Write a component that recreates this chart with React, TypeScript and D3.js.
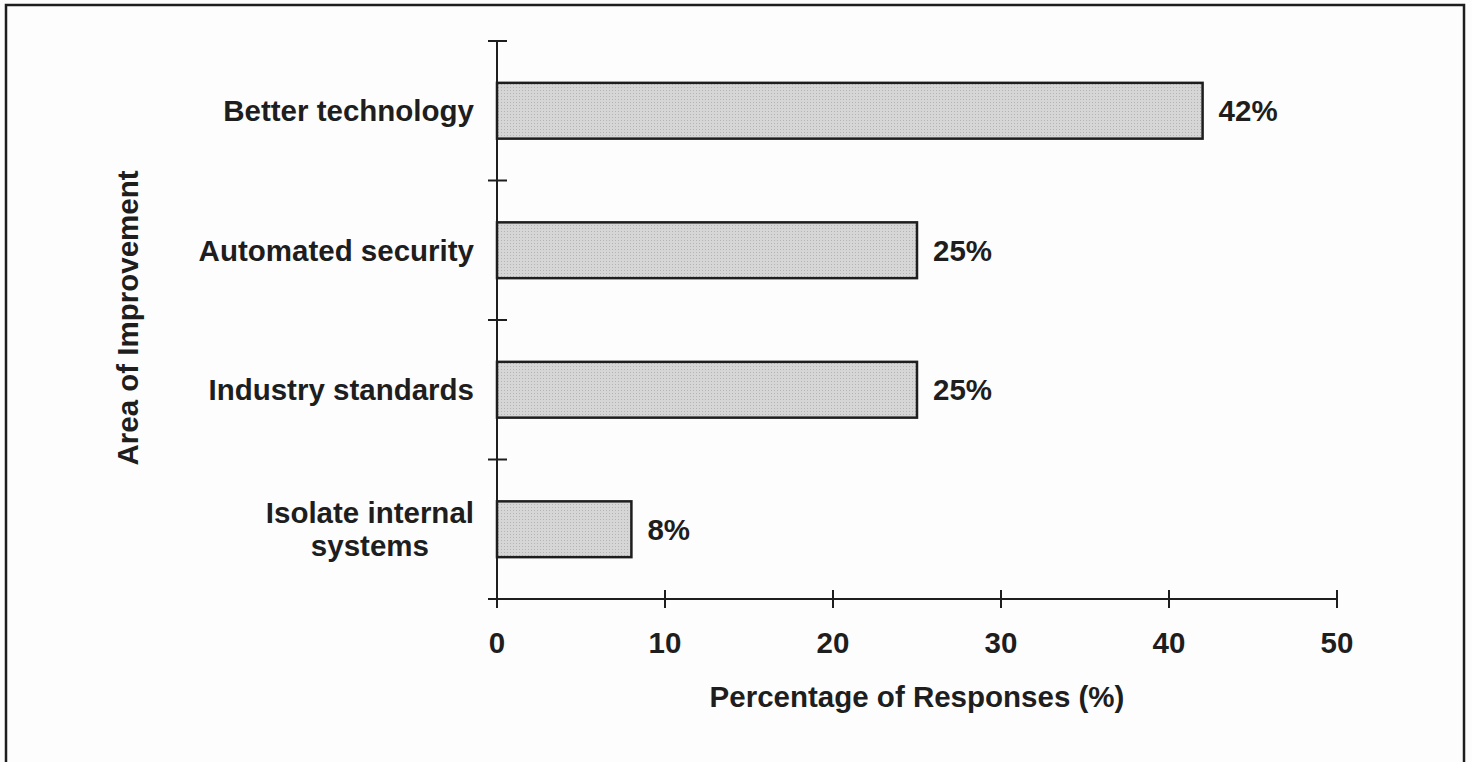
import React, { useEffect, useRef } from "react";
import * as d3 from "d3";

const categories = [
  ["Better technology"],
  ["Automated security"],
  ["Industry standards"],
  ["Isolate internal", "systems"],
];
const values = [42, 25, 25, 8];
const xTicks = [0, 10, 20, 30, 40, 50];

const FONT = "'Liberation Sans', Arial, Helvetica, sans-serif";
const FS = 29.5;

export default function App() {
  const svgRef = useRef<SVGSVGElement | null>(null);

  useEffect(() => {
    const width = 1472;
    const height = 762;
    const margin = { top: 41, left: 497, right: 135, bottom: 163 };

    const svg = d3.select(svgRef.current);
    svg.selectAll("*").remove();
    svg.attr("width", width).attr("height", height);

    svg.append("rect")
      .attr("width", width)
      .attr("height", height)
      .attr("fill", "#fdfdfd");

    // frame (bottom edge is off the picture)
    svg.append("rect")
      .attr("x", 6)
      .attr("y", 5)
      .attr("width", 1458)
      .attr("height", 780)
      .attr("fill", "none")
      .attr("stroke", "#1e1e1e")
      .attr("stroke-width", 2.5);

    const defs = svg.append("defs");
    const pat = defs.append("pattern")
      .attr("id", "stipple")
      .attr("width", 3)
      .attr("height", 3)
      .attr("patternUnits", "userSpaceOnUse");
    pat.append("rect").attr("width", 3).attr("height", 3).attr("fill", "#d6d6d6");
    pat.append("rect").attr("width", 1).attr("height", 1).attr("fill", "#b4b4b4");

    const x = d3.scaleLinear()
      .domain([0, 50])
      .range([margin.left, width - margin.right]);

    const y = d3.scaleBand<number>()
      .domain(d3.range(categories.length))
      .range([margin.top, height - margin.bottom])
      .paddingInner(0.6)
      .paddingOuter(0.3);

    const step = y.step();
    const yTop = margin.top;
    const yBottom = height - margin.bottom;
    const axisColor = "#1e1e1e";

    // bars
    svg.append("g")
      .selectAll("rect")
      .data(values)
      .join("rect")
      .attr("x", x(0))
      .attr("y", (d, i) => y(i)!)
      .attr("width", (d) => x(d) - x(0))
      .attr("height", y.bandwidth())
      .attr("fill", "url(#stipple)")
      .attr("stroke", "#1e1e1e")
      .attr("stroke-width", 2.5);

    // value labels
    svg.append("g")
      .selectAll("text")
      .data(values)
      .join("text")
      .attr("x", (d) => x(d) + 16)
      .attr("y", (d, i) => y(i)! + y.bandwidth() / 2)
      .attr("dy", "0.36em")
      .attr("font-family", FONT)
      .attr("font-weight", "bold")
      .attr("font-size", FS)
      .attr("fill", "#1e1e1e")
      .text((d) => `${d}%`);

    // y axis line and ticks
    svg.append("line")
      .attr("x1", x(0)).attr("x2", x(0))
      .attr("y1", yTop).attr("y2", yBottom + 9)
      .attr("stroke", axisColor).attr("stroke-width", 2);

    svg.append("g")
      .selectAll("line")
      .data(d3.range(categories.length + 1))
      .join("line")
      .attr("x1", x(0) - 9).attr("x2", x(0) + 10)
      .attr("y1", (d) => yTop + d * step)
      .attr("y2", (d) => yTop + d * step)
      .attr("stroke", axisColor).attr("stroke-width", 2);

    // x axis line and ticks
    svg.append("line")
      .attr("x1", x(0)).attr("x2", x(50))
      .attr("y1", yBottom).attr("y2", yBottom)
      .attr("stroke", axisColor).attr("stroke-width", 2);

    svg.append("g")
      .selectAll("line")
      .data(xTicks)
      .join("line")
      .attr("x1", (d) => x(d)).attr("x2", (d) => x(d))
      .attr("y1", yBottom - 9).attr("y2", yBottom + 9)
      .attr("stroke", axisColor).attr("stroke-width", 2);

    svg.append("g")
      .selectAll("text")
      .data(xTicks)
      .join("text")
      .attr("x", (d) => x(d))
      .attr("y", yBottom + 54)
      .attr("text-anchor", "middle")
      .attr("font-family", FONT)
      .attr("font-weight", "bold")
      .attr("font-size", FS)
      .attr("fill", "#1e1e1e")
      .text((d) => d);

    // category labels
    const labelRight = x(0) - 23;
    categories.forEach((lines, i) => {
      const cy = y(i)! + y.bandwidth() / 2;
      const t = svg.append("text")
        .attr("font-family", FONT)
        .attr("font-weight", "bold")
        .attr("font-size", FS)
        .attr("fill", "#1e1e1e");
      if (lines.length === 1) {
        t.attr("x", labelRight).attr("y", cy).attr("dy", "0.36em")
          .attr("text-anchor", "end").text(lines[0]);
      } else {
        const first = t.append("tspan")
          .attr("x", labelRight).attr("y", cy - 17).attr("dy", "0.36em")
          .attr("text-anchor", "end").text(lines[0]);
        const w = (first.node() as SVGTextContentElement).getComputedTextLength();
        lines.slice(1).forEach((ln, j) => {
          t.append("tspan")
            .attr("x", labelRight - w / 2).attr("y", cy + 16 + j * 34).attr("dy", "0.36em")
            .attr("text-anchor", "middle").text(ln);
        });
      }
    });

    // axis titles
    svg.append("text")
      .attr("x", (x(0) + x(50)) / 2)
      .attr("y", yBottom + 108)
      .attr("text-anchor", "middle")
      .attr("font-family", FONT)
      .attr("font-weight", "bold")
      .attr("font-size", FS)
      .attr("fill", "#1e1e1e")
      .text("Percentage of Responses (%)");

    svg.append("text")
      .attr("transform", `translate(138,${(yTop + yBottom) / 2 - 2}) rotate(-90)`)
      .attr("text-anchor", "middle")
      .attr("font-family", FONT)
      .attr("font-weight", "bold")
      .attr("font-size", FS)
      .attr("fill", "#1e1e1e")
      .text("Area of Improvement");
  }, []);

  return (
    <div style={{ position: "absolute", left: 0, top: 0 }}>
      <svg ref={svgRef}></svg>
    </div>
  );
}
